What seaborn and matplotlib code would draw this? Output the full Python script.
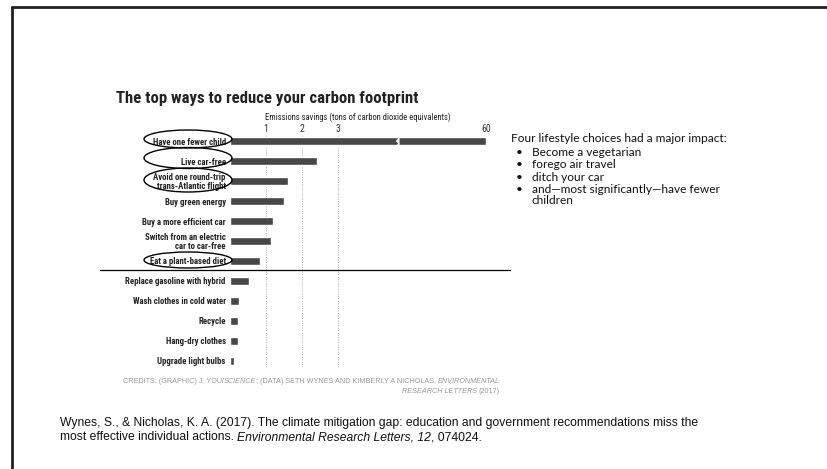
import numpy as np
import matplotlib
matplotlib.use('Agg')
import matplotlib.pyplot as plt
import matplotlib.transforms as mtransforms
from matplotlib import font_manager
from matplotlib.patches import Ellipse, Polygon
import seaborn as sns

# Data
actions = [
    'Have one fewer child',
    'Live car-free',
    'Avoid one round-trip\ntrans-Atlantic flight',
    'Buy green energy',
    'Buy a more efficient car',
    'Switch from an electric\ncar to car-free',
    'Eat a plant-based diet',
    'Replace gasoline with hybrid',
    'Wash clothes in cold water',
    'Recycle',
    'Hang-dry clothes',
    'Upgrade light bulbs',
]
savings = [60, 2.4, 1.6, 1.5, 1.19, 1.15, 0.82, 0.52, 0.25, 0.21, 0.21, 0.1]
tick_values = [1, 2, 3, 60]
tick_labels = ['1', '2', '3', '60']
circled = [0, 1, 2, 6]

bullets = [
    'Become a vegetarian',
    'forego air travel',
    'ditch your car',
    'and\u2014most significantly\u2014have fewer',
]

W, H = 827, 469
sns.set_theme(style='white')

installed = {f.name for f in font_manager.fontManager.ttflist}


def pick(cands):
    for c in cands:
        if c in installed:
            return c
    return 'DejaVu Sans'


cond = pick(['Liberation Sans Narrow', 'Roboto Condensed', 'Open Sans Condensed',
             'Liberation Sans'])
plain = pick(['Liberation Sans', 'Roboto'])
note = pick(['Lato', 'Open Sans', 'Liberation Sans'])
plt.rcParams['font.family'] = [cond, 'DejaVu Sans']

fig = plt.figure(figsize=(W / 100, H / 100), dpi=100)
fig.patch.set_facecolor('white')
renderer = fig.canvas.get_renderer()


def fx(px):
    return px / W


def fy(py):
    return 1 - py / H


def width_px(txt, **kw):
    t = fig.text(0, 0, txt, **kw)
    w = t.get_window_extent(renderer).width
    t.remove()
    return w


def fit(txt, target, **kw):
    # font size giving the pixel width seen in the reference
    return 10 * target / width_px(txt, fontsize=10, **kw)


lab_size = fit('Have one fewer child', 73, family=[cond], fontweight='bold')
title_size = fit('The top ways to reduce your carbon footprint', 302,
                 family=[cond], fontweight='bold')
xlab_size = fit('Emissions savings (tons of carbon dioxide equivalents)', 186,
                family=[cond])
note_size = fit('Four lifestyle choices had a major impact:', 216, family=[note])
credit_size = fit('CREDITS: (GRAPHIC) J. YOU/SCIENCE; (DATA) SETH WYNES AND '
                  'KIMBERLY A NICHOLAS, ENVIRONMENTAL', 374, family=[plain])
cite_size = min(8.7, fit('Wynes, S., & Nicholas, K. A. (2017). The climate mitigation gap: '
                         'education and government recommendations miss the', 690,
                         family=[plain]))

# axes placed where the reference plot area sits
ax = fig.add_axes([fx(230), fy(367), fx(486) - fx(230), (367 - 135) / H])

sns.barplot(x=savings, y=actions, orient='h', color='#474747', width=0.42,
            saturation=1, ax=ax, zorder=3)

# broken axis: linear up to 4.7, compressed after that
b = 4.7
k = (7.1 - b) / (60 - b)


def fwd(x):
    x = np.asarray(x, dtype=float)
    return np.where(x <= b, x, b + (x - b) * k)


def inv(y):
    y = np.asarray(y, dtype=float)
    return np.where(y <= b, y, b + (y - b) / k)


ax.set_xscale('function', functions=(fwd, inv))
ax.set_xlim(0, 60)
ax.set_ylim(11.3, -0.3)

ax.set_xticks(tick_values)
ax.set_xticklabels(tick_labels, fontsize=xlab_size * 1.15, color='#333333')
ax.xaxis.tick_top()
ax.xaxis.set_label_position('top')
ax.set_xlabel('Emissions savings (tons of carbon dioxide equivalents)',
              fontsize=xlab_size, color='#222222', labelpad=3)
ax.tick_params(axis='x', length=0, pad=1)
ax.tick_params(axis='y', length=0, pad=3)
for lab in ax.get_yticklabels():
    lab.set_fontsize(lab_size)
    lab.set_fontweight('bold')
    lab.set_color('#222222')
    lab.set_linespacing(0.95)
ax.set_ylabel('')
ax.grid(axis='x', linestyle=(0, (1, 1.5)), color='#aaaaaa', linewidth=0.7, zorder=0)
ax.grid(axis='y', visible=False)
for s in ax.spines.values():
    s.set_visible(False)

# break mark on the first bar
zig_x = [4.60, 4.66, 4.60, 4.66, 4.60, 4.74, 4.80, 4.74, 4.80, 4.74]
zig_y = [-0.3, -0.12, 0.0, 0.12, 0.3, 0.3, 0.12, 0.0, -0.12, -0.3]
ax.add_patch(Polygon(list(zip(zig_x, zig_y)), closed=True, facecolor='white',
                     edgecolor='none', zorder=4))

# ellipses round the highlighted labels
blend = mtransforms.blended_transform_factory(fig.transFigure, ax.transData)
ell_dy = {0: -0.1, 1: -0.15, 2: -0.05, 6: -0.05}
ell_h = {0: 0.9, 1: 1.05, 2: 1.2, 6: 0.8}
for i in circled:
    ax.add_patch(Ellipse((fx(188), i + ell_dy[i]), fx(88), ell_h[i],
                         transform=blend, fill=False, edgecolor='black',
                         linewidth=1.0, clip_on=False, zorder=5))

# divider line between plant-based diet and hybrid
ax.plot([fx(100), fx(510)], [6.45, 6.45], transform=blend, color='black',
        linewidth=0.9, clip_on=False, zorder=5)

# slide frame (top and left edge)
fig.add_artist(plt.Line2D([fx(12), 1], [fy(7), fy(7)], color='#222222', linewidth=2))
fig.add_artist(plt.Line2D([fx(12), fx(12)], [fy(7), 0], color='#222222', linewidth=2))

# title
fig.text(fx(116), fy(98), 'The top ways to reduce your carbon footprint',
         fontsize=title_size, fontweight='bold', color='#222222', ha='left', va='center')

# right-hand notes
note_kw = dict(fontsize=note_size, family=[note, 'DejaVu Sans'], color='#111111',
               va='center')
fig.text(fx(511), fy(138), 'Four lifestyle choices had a major impact:', **note_kw)
bullet_y = [152, 165, 177, 189]
for yy, item in zip(bullet_y, bullets):
    fig.text(fx(516), fy(yy), '\u2022', **note_kw)
    fig.text(fx(532), fy(yy), item, **note_kw)
fig.text(fx(532), fy(200), 'children', **note_kw)


def rich_line(x_px, y_px, parts, ha='left', **kw):
    # parts: list of (text, italic); widths measured with a guard char so
    # trailing spaces count
    widths = []
    for txt, it in parts:
        st = 'italic' if it else 'normal'
        widths.append(width_px(txt + '|', fontstyle=st, **kw)
                      - width_px('|', fontstyle=st, **kw))
    total = sum(widths)
    x = x_px if ha == 'left' else x_px - total
    for (txt, it), w in zip(parts, widths):
        fig.text(fx(x), fy(y_px), txt, ha='left', va='baseline',
                 fontstyle='italic' if it else 'normal', **kw)
        x += w


credit_kw = dict(fontsize=credit_size, color='#9a9a9a', family=[plain, 'DejaVu Sans'])
rich_line(500, 383, [('CREDITS: (GRAPHIC) J. YOU/', False), ('SCIENCE', True),
                     ('; (DATA) SETH WYNES AND KIMBERLY A NICHOLAS, ', False),
                     ('ENVIRONMENTAL', True)], ha='right', **credit_kw)
rich_line(500, 393, [('RESEARCH LETTERS ', True), ('(2017)', False)],
          ha='right', **credit_kw)

cite_kw = dict(fontsize=cite_size, color='#111111', family=[plain, 'DejaVu Sans'])
rich_line(60, 426, [('Wynes, S., & Nicholas, K. A. (2017). The climate mitigation gap: '
                     'education and government recommendations miss the', False)], **cite_kw)
rich_line(60, 440, [('most effective individual actions. ', False),
                    ('Environmental Research Letters, 12', True),
                    (', 074024.', False)], **cite_kw)

fig.savefig('out.png', dpi=100, facecolor='white')
